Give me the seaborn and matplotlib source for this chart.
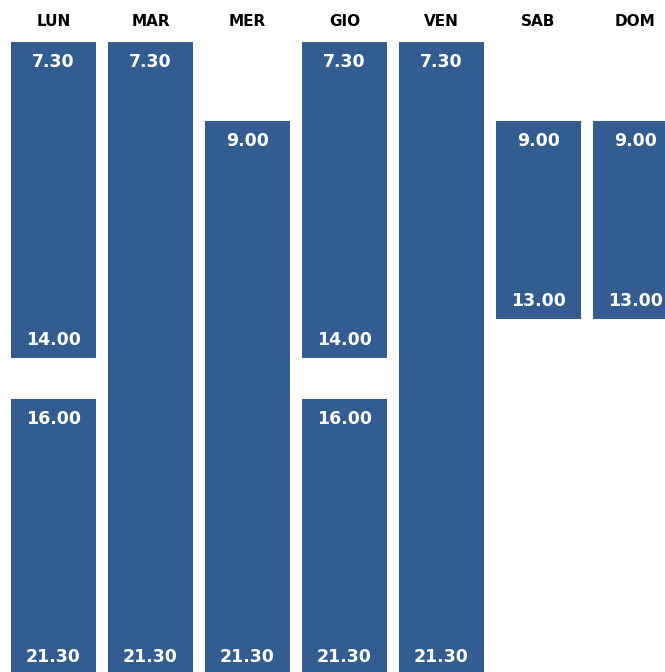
import numpy as np
import pandas as pd
import matplotlib
matplotlib.use("Agg")
import matplotlib.pyplot as plt
import matplotlib.transforms as mtransforms
import seaborn as sns

# opening hours, one bar per time slot
days = ["LUN", "MAR", "MER", "GIO", "VEN", "SAB", "DOM"]
open_1 = [7.5, 7.5, 9.0, 7.5, 7.5, 9.0, 9.0]
close_1 = [14.0, 21.5, 21.5, 14.0, 21.5, 13.0, 13.0]

# afternoon slot (only some days)
days_2 = ["LUN", "GIO"]
open_2 = [16.0, 16.0]
close_2 = [21.5, 21.5]

# the rows of the timetable are not evenly spaced: hour -> row position
row_hours = [5.5, 7.5, 9.0, 13.0, 14.0, 16.0, 21.5, 23.5]
row_pos = [-63.3, 42, 121, 319, 358, 399, 675, 775.4]

bar_color = "#335d90"


def fmt_hour(h):
    return f"{int(h)}.{int(round((h % 1) * 60)):02d}"


def fwd(h):
    return np.interp(h, row_hours, row_pos)


def inv(p):
    return np.interp(p, row_pos, row_hours)


sns.set_theme(style="white")
plt.rcParams["font.family"] = ["DejaVu Sans"]

df1 = pd.DataFrame({"day": days, "start": open_1, "end": close_1})
df1["length"] = df1["end"] - df1["start"]
df2 = pd.DataFrame({"day": days_2, "start": open_2, "end": close_2})
df2["length"] = df2["end"] - df2["start"]

fig = plt.figure(figsize=(6.65, 6.72), dpi=100)
ax = fig.add_axes([0, 0, 1, 1])

sns.barplot(data=df1, x="day", y="length", order=days, bottom=df1["start"].values,
            color=bar_color, saturation=1, width=85 / 97, linewidth=0,
            errorbar=None, ax=ax)
sns.barplot(data=df2, x="day", y="length", order=days, bottom=df2["start"].values,
            color=bar_color, saturation=1, width=85 / 97, linewidth=0,
            errorbar=None, ax=ax)

ax.set_yscale("function", functions=(fwd, inv))
ax.set_ylim(inv(672), inv(0))
ax.set_xlim(-53.5 / 97, (665 - 53.5) / 97)

# time labels inside the bars
label_style = dict(color="white", fontsize=12.5, fontweight="bold",
                   ha="center", va="center", textcoords="offset pixels",
                   annotation_clip=False)
for df in (df1, df2):
    for _, row in df.iterrows():
        i = days.index(row["day"])
        ax.annotate(fmt_hour(row["start"]), xy=(i, row["start"]), xytext=(0, -20), **label_style)
        ax.annotate(fmt_hour(row["end"]), xy=(i, row["end"]), xytext=(0, 18), **label_style)

# day headers
trans = mtransforms.blended_transform_factory(ax.transData, ax.transAxes)
for i, d in enumerate(days):
    ax.text(i, 1 - 21 / 672, d, transform=trans, ha="center", va="center",
            fontsize=11, fontweight="bold", color="black")

ax.set_xlabel("")
ax.set_ylabel("")
ax.set_xticks([])
ax.set_yticks([])
ax.minorticks_off()
sns.despine(ax=ax, left=True, bottom=True)

fig.savefig("out.png", dpi=100)
